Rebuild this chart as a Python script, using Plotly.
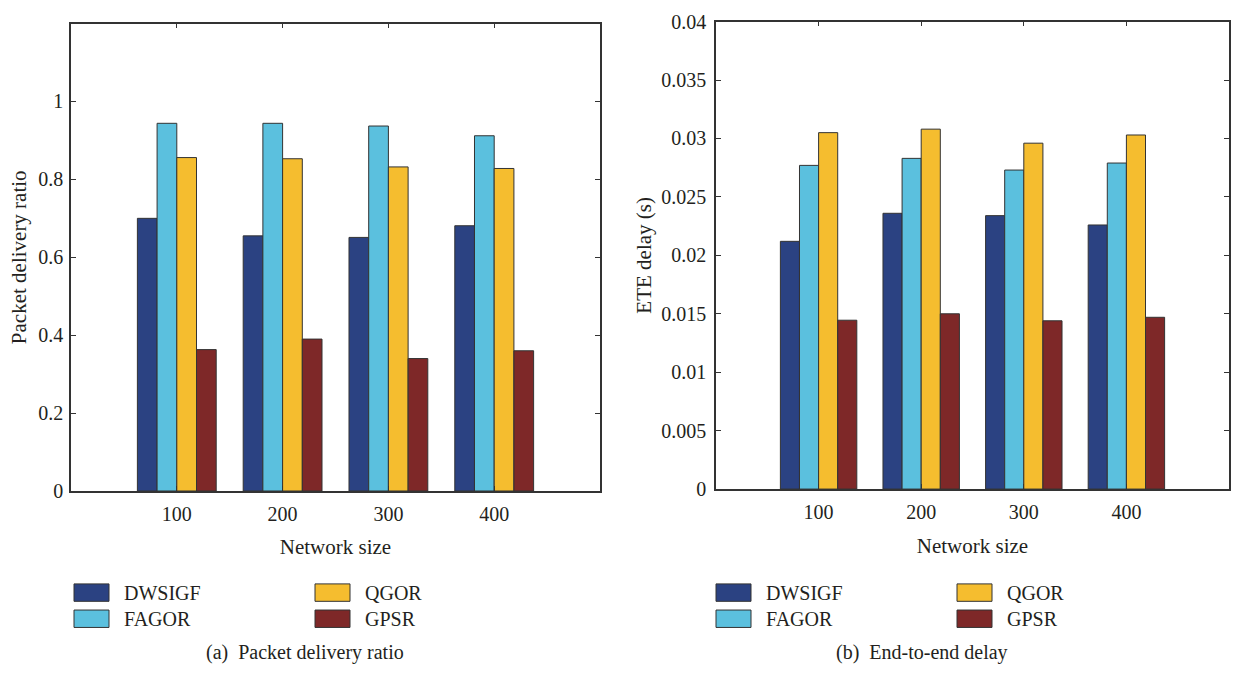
import plotly.graph_objects as go

# ---------------- data ----------------
network_sizes = ["100", "200", "300", "400"]
x_pos = [1, 2, 3, 4]
series_names = ["DWSIGF", "FAGOR", "QGOR", "GPSR"]
series_colors = ["#2B4282", "#5BC0DE", "#F5BD2F", "#7E2828"]

pdr_dwsigf = [0.700, 0.655, 0.651, 0.681]
pdr_fagor = [0.944, 0.944, 0.937, 0.912]
pdr_qgor = [0.856, 0.853, 0.832, 0.828]
pdr_gpsr = [0.363, 0.390, 0.340, 0.360]

ete_dwsigf = [0.0212, 0.0236, 0.0234, 0.0226]
ete_fagor = [0.0277, 0.0283, 0.0273, 0.0279]
ete_qgor = [0.0305, 0.0308, 0.0296, 0.0303]
ete_gpsr = [0.01445, 0.0150, 0.0144, 0.0147]

pdr_ticks = [0, 0.2, 0.4, 0.6, 0.8, 1]
pdr_ticktext = ["0", "0.2", "0.4", "0.6", "0.8", "1"]
ete_ticks = [0, 0.005, 0.01, 0.015, 0.02, 0.025, 0.03, 0.035, 0.04]
ete_ticktext = ["0", "0.005", "0.01", "0.015", "0.02", "0.025", "0.03", "0.035", "0.04"]

pdr_series = [pdr_dwsigf, pdr_fagor, pdr_qgor, pdr_gpsr]
ete_series = [ete_dwsigf, ete_fagor, ete_qgor, ete_gpsr]

# ---------------- figure ----------------
W, H = 1235, 682
FONT = "Liberation Serif"
TXT = "#231F20"
EDGE = "#333333"

fig = go.Figure()

for name, color, vals in zip(series_names, series_colors, pdr_series):
    fig.add_trace(go.Bar(x=x_pos, y=vals, name=name, xaxis="x", yaxis="y",
                         marker=dict(color=color, line=dict(color=EDGE, width=1)),
                         showlegend=False))
for name, color, vals in zip(series_names, series_colors, ete_series):
    fig.add_trace(go.Bar(x=x_pos, y=vals, name=name, xaxis="x2", yaxis="y2",
                         marker=dict(color=color, line=dict(color=EDGE, width=1)),
                         showlegend=False))

def px_x(p):
    return p / W

def px_y(p):
    return 1 - p / H

axis_common = dict(showline=True, linecolor=EDGE, linewidth=1.5, mirror="ticks",
                   ticks="inside", ticklen=5, tickcolor=EDGE, tickwidth=1,
                   showgrid=False, zeroline=False,
                   tickfont=dict(family=FONT, size=20, color=TXT))
title_font = dict(family=FONT, size=21, color=TXT)

fig.update_layout(
    width=W, height=H,
    margin=dict(l=0, r=0, t=0, b=0),
    paper_bgcolor="white", plot_bgcolor="white",
    barmode="group", bargap=0.255, bargroupgap=0,
    font=dict(family=FONT, color=TXT, size=20),
    xaxis=dict(domain=[px_x(71), px_x(600)], range=[0, 5], anchor="y",
               tickvals=x_pos, ticktext=network_sizes, ticklabelstandoff=4,
               title=dict(text="Network size", font=title_font, standoff=16),
               **axis_common),
    yaxis=dict(domain=[px_y(496), px_y(13)], range=[0, 1.2], anchor="x",
               tickvals=pdr_ticks, ticktext=pdr_ticktext, ticklabelstandoff=2,
               title=dict(text="Packet delivery ratio", font=title_font, standoff=6),
               **axis_common),
    xaxis2=dict(domain=[px_x(716), px_x(1229)], range=[0, 5], anchor="y2",
                tickvals=x_pos, ticktext=network_sizes, ticklabelstandoff=4,
                title=dict(text="Network size", font=title_font, standoff=16),
                **axis_common),
    yaxis2=dict(domain=[px_y(494), px_y(11)], range=[0, 0.04], anchor="x2",
                tickvals=ete_ticks, ticktext=ete_ticktext, ticklabelstandoff=4,
                title=dict(text="ETE delay (s)", font=title_font, standoff=4),
                **axis_common),
)

# ---------------- legends (swatches + labels) and captions ----------------
shapes = []
annotations = []
legend_specs = [(74, 315), (716, 957)]
row_y = [601, 628]
for col1_x, col2_x in legend_specs:
    for i, (name, color) in enumerate(zip(series_names, series_colors)):
        sx = col1_x if i < 2 else col2_x
        cy = row_y[i % 2]
        shapes.append(dict(type="rect", xref="paper", yref="paper",
                           x0=px_x(sx), x1=px_x(sx + 35),
                           y0=px_y(cy + 9), y1=px_y(cy - 9),
                           fillcolor=color, line=dict(color=EDGE, width=1)))
        annotations.append(dict(text=name, xref="paper", yref="paper",
                                x=px_x(sx + 48), y=px_y(cy), xanchor="left", yanchor="middle",
                                showarrow=False, font=dict(family=FONT, size=20, color=TXT)))

annotations.append(dict(text="(a)  Packet delivery ratio", xref="paper", yref="paper",
                        x=px_x(305), y=px_y(663), xanchor="center", yanchor="middle",
                        showarrow=False, font=dict(family=FONT, size=20, color=TXT)))
annotations.append(dict(text="(b)  End-to-end delay", xref="paper", yref="paper",
                        x=px_x(922), y=px_y(663), xanchor="center", yanchor="middle",
                        showarrow=False, font=dict(family=FONT, size=20, color=TXT)))

fig.update_layout(shapes=shapes, annotations=annotations)

fig.write_html("out.html")
